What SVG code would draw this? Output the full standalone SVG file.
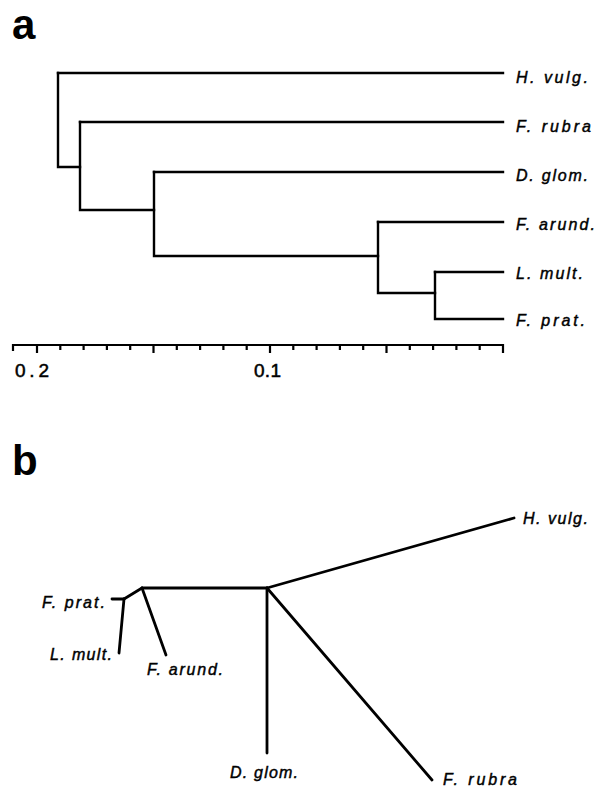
<svg xmlns="http://www.w3.org/2000/svg" width="602" height="789" viewBox="0 0 602 789">
<style>
.panel{font-family:"Liberation Sans",Arial,sans-serif;font-weight:bold;font-size:42px;fill:#000}
.lbl{font-family:"Liberation Sans",Arial,sans-serif;font-style:italic;font-size:16px;fill:#000;stroke:#000;stroke-width:0.45}
.ax{font-family:"Liberation Sans",Arial,sans-serif;font-size:19px;fill:#000;stroke:#000;stroke-width:0.5}
.tree{fill:none;stroke:#000;stroke-width:2.4;stroke-linecap:square;stroke-linejoin:miter}
.net{fill:none;stroke:#000;stroke-width:2.8;stroke-linecap:round;stroke-linejoin:round}
.tick{fill:none;stroke:#000;stroke-width:2.2}
</style>
<rect width="602" height="789" fill="#fff"/>
<text class="panel" x="12" y="39">a</text>
<text class="panel" x="12" y="475">b</text>

<g id="connectors-a" class="tree">
<path d="M58,73 H503"/>
<path d="M58,73 V167 H80"/>
<path d="M80,122 H503"/>
<path d="M80,122 V210 H154"/>
<path d="M154,172 H503"/>
<path d="M154,172 V256 H378"/>
<path d="M378,222 H503"/>
<path d="M378,222 V293 H435"/>
<path d="M435,272 H503"/>
<path d="M435,272 V319 H503"/>
</g>
<g id="a-hvulg"><text class="lbl" x="516" y="83" textLength="72" lengthAdjust="spacing">H. vulg.</text></g>
<g id="a-frubra"><text class="lbl" x="516" y="132" textLength="75" lengthAdjust="spacing">F. rubra</text></g>
<g id="a-dglom"><text class="lbl" x="516" y="181" textLength="72" lengthAdjust="spacing">D. glom.</text></g>
<g id="a-farund"><text class="lbl" x="516" y="230" textLength="79" lengthAdjust="spacing">F. arund.</text></g>
<g id="a-lmult"><text class="lbl" x="516" y="279" textLength="67" lengthAdjust="spacing">L. mult.</text></g>
<g id="a-fprat"><text class="lbl" x="516" y="326" textLength="69" lengthAdjust="spacing">F. prat.</text></g>

<g id="axis">
<path class="tick" d="M13,345 H503"/>
<path class="tick" d="M13,344 V351 M37,345 V353 M60.3,345 V350 M83.6,345 V350 M106.9,345 V350 M130.2,345 V350 M153.5,345 V353 M176.8,345 V350 M200.1,345 V350 M223.4,345 V350 M246.7,345 V350 M270,345 V353 M293.3,345 V350 M316.6,345 V350 M339.9,345 V350 M363.2,345 V350 M386.5,345 V353 M409.8,345 V350 M433.1,345 V350 M456.4,345 V350 M479.7,345 V350 M503,344 V353"/>
<text class="ax" x="15" y="377" textLength="34" lengthAdjust="spacing">0.2</text>
<text class="ax" x="254" y="377" textLength="27" lengthAdjust="spacing">0.1</text>
</g>

<g id="connectors-b" class="net">
<path d="M112,599 H124"/>
<path d="M124,599 L119,653"/>
<path d="M124,599 L142,588"/>
<path d="M142,588 L166,655"/>
<path d="M142,588 H267"/>
<path d="M267,588 V753"/>
<path d="M267,588 L514,518"/>
<path d="M267,588 L432,780"/>
</g>
<g id="b-hvulg"><text class="lbl" x="523" y="524" textLength="65" lengthAdjust="spacing">H. vulg.</text></g>
<g id="b-fprat"><text class="lbl" x="42" y="608" textLength="63" lengthAdjust="spacing">F. prat.</text></g>
<g id="b-lmult"><text class="lbl" x="50" y="660" textLength="62" lengthAdjust="spacing">L. mult.</text></g>
<g id="b-farund"><text class="lbl" x="147" y="675" textLength="76" lengthAdjust="spacing">F. arund.</text></g>
<g id="b-dglom"><text class="lbl" x="230" y="778" textLength="68" lengthAdjust="spacing">D. glom.</text></g>
<g id="b-frubra"><text class="lbl" x="443" y="785" textLength="74" lengthAdjust="spacing">F. rubra</text></g>
</svg>
